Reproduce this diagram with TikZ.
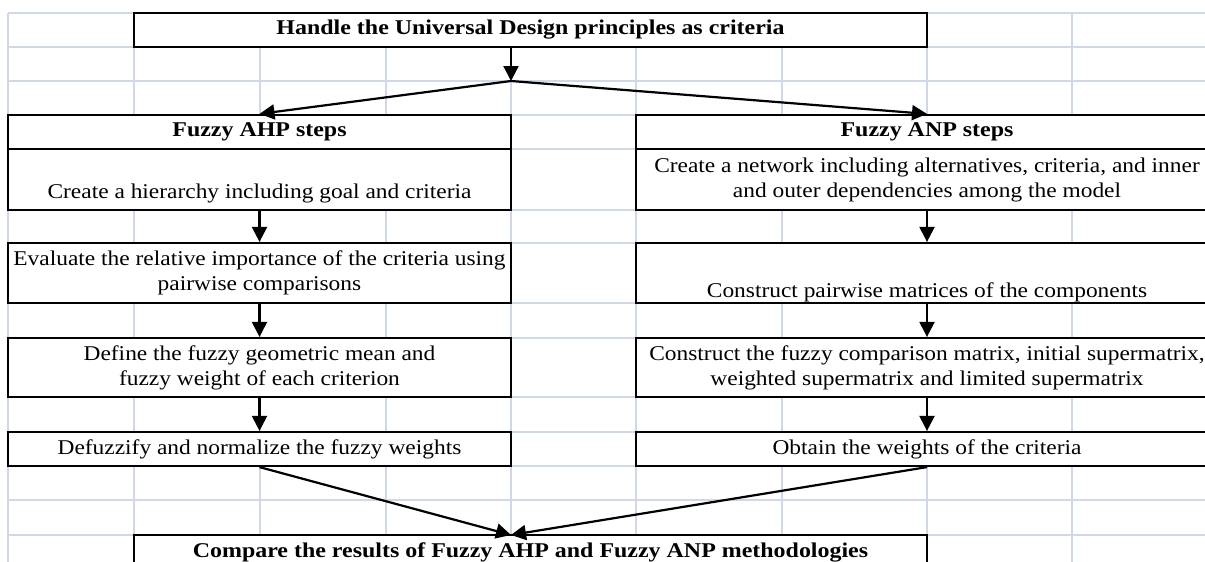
\documentclass[tikz,border=0pt]{standalone}
\usepackage{fontspec}
\setmainfont{Liberation Serif}[FakeStretch=1.115,BoldFeatures={FakeStretch=1.14}]
\usetikzlibrary{arrows.meta}

\definecolor{gridcol}{RGB}{208,215,229}

\tikzset{
  gridline/.style={draw=gridcol, line width=1.5pt},
  cell/.style={draw, fill=white, line width=2.2pt, inner sep=0pt, align=center,
    font=\fontsize{21}{25}\selectfont},
  boldcell/.style={cell, font=\fontsize{21}{25}\selectfont\bfseries},
  ahpcol/.style={minimum width=503pt},
  anpcol/.style={minimum width=582pt},
  flow/.style={line width=2.2pt, -{Triangle[length=15pt,width=15pt]}}
}

\begin{document}
\begin{tikzpicture}[x=1pt,y=-1pt]
\clip (0,0) rectangle (1205,562);
\fill[white] (0,0) rectangle (1205,562);

% we draw the sheet grid
\foreach \gx in {8,134,260,386,511,636,782,927,1072}
  \draw[gridline] (\gx,13) -- (\gx,562);
\foreach \gy in {13,47,81,115,149,210,243,303,338,397,432,466,500,535}
  \draw[gridline] (8,\gy) -- (1205,\gy);

% we place the top and bottom boxes
\node[boldcell, minimum width=793pt, minimum height=34pt] (udp) at (530.5,30)
  {Handle the Universal Design principles as criteria};
\node[boldcell, minimum width=793pt, minimum height=34pt] (cmp) at (530.5,552)
  {Compare the results of Fuzzy AHP and Fuzzy ANP methodologies};

% fuzzy AHP column
\node[boldcell, ahpcol, minimum height=34pt] (ahphead) at (259.5,132) {Fuzzy AHP steps};
\node[cell, ahpcol, minimum height=61pt] (ahp1) at (259.5,179.5)
  {\strut\\Create a hierarchy including goal and criteria};
\node[cell, ahpcol, minimum height=60pt] (ahp2) at (259.5,273)
  {Evaluate the relative importance of the criteria using\\pairwise comparisons};
\node[cell, ahpcol, minimum height=59pt] (ahp3) at (259.5,367.5)
  {Define the fuzzy geometric mean and\\fuzzy weight of each criterion};
\node[cell, ahpcol, minimum height=34pt] (ahp4) at (259.5,449)
  {Defuzzify and normalize the fuzzy weights};

% fuzzy ANP column
\node[boldcell, anpcol, minimum height=34pt] (anphead) at (927,132) {Fuzzy ANP steps};
\node[cell, anpcol, minimum height=61pt] (anp1) at (927,179.5)
  {Create a network including alternatives, criteria, and inner\\and outer dependencies among the model};
\node[cell, anpcol, minimum height=60pt] (anp2) at (927,273)
  {\strut\\[10pt]Construct pairwise matrices of the components};
\node[cell, anpcol, minimum height=59pt] (anp3) at (927,367.5)
  {Construct the fuzzy comparison matrix, initial supermatrix,\\weighted supermatrix and limited supermatrix};
\node[cell, anpcol, minimum height=34pt] (anp4) at (927,449)
  {Obtain the weights of the criteria};

% split and merge points
\coordinate (split) at (511,81);
\coordinate (merge) at (511,535);

\draw[flow] (udp.south -| split) -- (split);
\draw[flow] (split) -- (ahphead.north);
\draw[flow] (split) -- (anphead.north);

\draw[flow] (ahp1) -- (ahp2);
\draw[flow] (ahp2) -- (ahp3);
\draw[flow] (ahp3) -- (ahp4);
\draw[flow] (anp1) -- (anp2);
\draw[flow] (anp2) -- (anp3);
\draw[flow] (anp3) -- (anp4);

\draw[flow] (ahp4.south) -- (merge);
\draw[flow] (anp4.south) -- (merge);

\end{tikzpicture}
\end{document}
